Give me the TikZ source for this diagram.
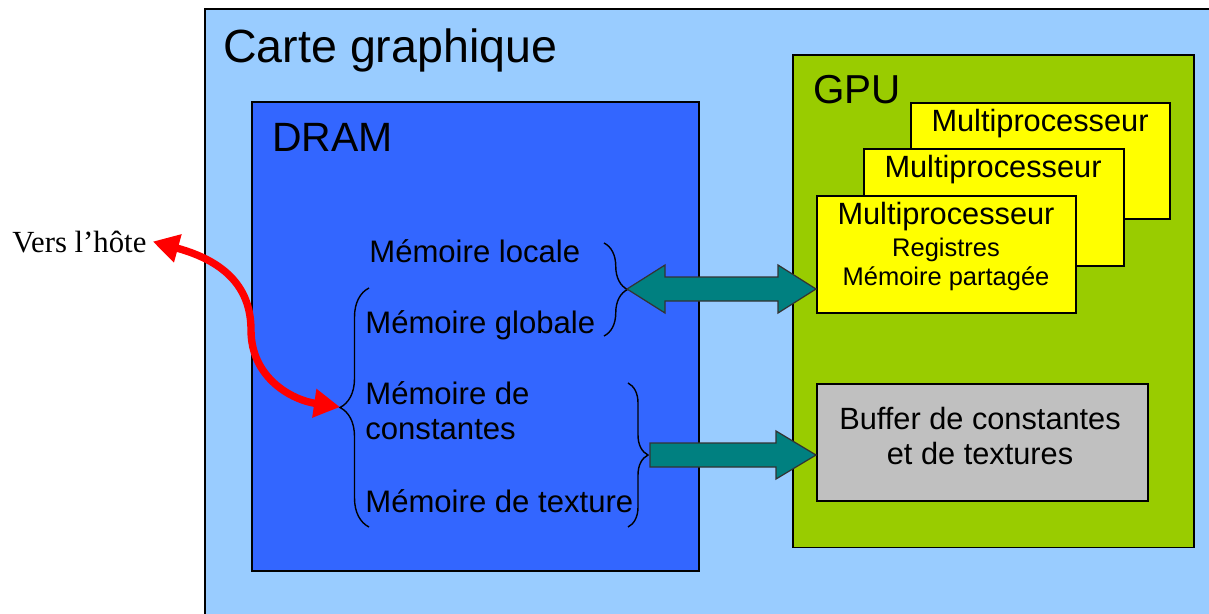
\documentclass[tikz,border=0pt]{standalone}
\usepackage{fontspec}
\setmainfont{Liberation Sans}
\newfontfamily\hotefont{Liberation Serif}
\usepackage{tikz}
\usetikzlibrary{arrows.meta, calc, decorations.pathreplacing}
\definecolor{cardblue}{HTML}{99CCFF}
\definecolor{dramblue}{HTML}{3366FF}
\definecolor{gpugreen}{HTML}{99CC00}
\definecolor{mpyellow}{HTML}{FFFF00}
\definecolor{bufgray}{HTML}{C0C0C0}
\definecolor{arrowteal}{HTML}{008080}

\begin{document}
\begin{tikzpicture}[x=0.02cm, y=-0.02cm,
    box/.style={draw=black, line width=0.9pt, inner sep=0pt, anchor=north west},
    lbl/.style={inner sep=0pt, anchor=base west, font=\fontsize{17.7}{21}\selectfont},
    mplbl/.style={inner sep=0pt, anchor=base, font=\fontsize{17.5}{21}\selectfont},
    small/.style={inner sep=0pt, anchor=base, font=\fontsize{14.5}{17}\selectfont},
    curly/.style={draw=black, line width=0.8pt, decorate, decoration={brace, amplitude=#1}},
    blockarrow/.style={draw=black!80, line width=0.7pt, fill=arrowteal},
    hostarrow/.style={draw=red, line width=4.2pt, {Triangle[length=0.52cm, width=0.55cm]}-{Triangle[length=0.52cm, width=0.55cm]}}]
    \clip (0,0) rectangle (1209,613);
    \fill [white] (0,0) rectangle (1209,613);

    \node [box, fill=cardblue, minimum width=20.5cm, minimum height=12.5cm] (carte) at (204,8) {};
    \node [lbl, font=\fontsize{26.5}{31}\selectfont] (cartelbl) at (223,62) {Carte graphique};

    \node [box, fill=dramblue, minimum width=8.94cm, minimum height=9.38cm] (dram) at (251,101) {};
    \node [lbl, font=\fontsize{23.3}{27}\selectfont] (dramlbl) at (272,151) {DRAM};

    \node [box, fill=gpugreen, minimum width=8.02cm, minimum height=9.86cm] (gpu) at (792,54) {};
    \node [lbl, font=\fontsize{23}{27}\selectfont] (gpulbl) at (813,103) {GPU};

    \node [box, fill=mpyellow, minimum width=5.18cm, minimum height=2.32cm] (mp3) at (910,102) {};
    \node [mplbl] (mp3lbl) at (1040,131) {Multiprocesseur};
    \node [box, fill=mpyellow, minimum width=5.2cm, minimum height=2.34cm] (mp2) at (863,148) {};
    \node [mplbl] (mp2lbl) at (993,177) {Multiprocesseur};
    \node [box, fill=mpyellow, minimum width=5.18cm, minimum height=2.34cm] (mp1) at (816,195) {};
    \node [mplbl] (mp1lbl) at (946,224) {Multiprocesseur};
    \node [small] (reg) at (946,256) {Registres};
    \node [small] (part) at (946,285) {Mémoire partagée};

    \node [box, fill=bufgray, minimum width=6.62cm, minimum height=2.34cm] (buf) at (816,383) {};
    \node [mplbl] (buf1) at (980,429) {Buffer de constantes};
    \node [mplbl] (buf2) at (980,464) {et de textures};

    \node [lbl] (locale) at (369,262) {Mémoire locale};
    \node [lbl] (globale) at (365,333) {Mémoire globale};
    \node [lbl] (const1) at (365,404) {Mémoire de};
    \node [lbl] (const2) at (365,439) {constantes};
    \node [lbl] (texture) at (365,512) {Mémoire de texture};

    \draw [curly=0.47cm] (604,243) -- (604,336);
    \draw [curly=0.58cm] (369,527) -- (369,288);
    \draw [curly=0.4cm] (628,383) -- (628,527);
    \coordinate (ltip) at (627,289);
    \coordinate (gtip) at (340,407);
    \coordinate (ctip) at (648,455);
    \coordinate (rtip) at (mp1.west |- ltip);
    \coordinate (btip) at (buf.west |- ctip);

    \draw [blockarrow] (ltip) -- ($(ltip)+(38,-24)$) -- ($(ltip)+(38,-12)$) -- ($(rtip)+(-38,-12)$) -- ($(rtip)+(-38,-24)$) -- (rtip)
        -- ($(rtip)+(-38,24)$) -- ($(rtip)+(-38,12)$) -- ($(ltip)+(38,12)$) -- ($(ltip)+(38,24)$) -- cycle;
    \draw [blockarrow] ($(ctip)+(2,-12)$) -- ($(btip)+(-40,-12)$) -- ($(btip)+(-40,-24)$) -- (btip)
        -- ($(btip)+(-40,24)$) -- ($(btip)+(-40,12)$) -- ($(ctip)+(2,12)$) -- cycle;

    \node [lbl, font=\hotefont\fontsize{17.5}{21}\selectfont] (hote) at (12,252) {Vers l’hôte};
    \draw [hostarrow] ([xshift=0.12cm]hote.east) .. controls (228,262) and (251,290) .. (251,330)
        .. controls (251,378) and (292,400) .. (gtip);
\end{tikzpicture}
\end{document}
